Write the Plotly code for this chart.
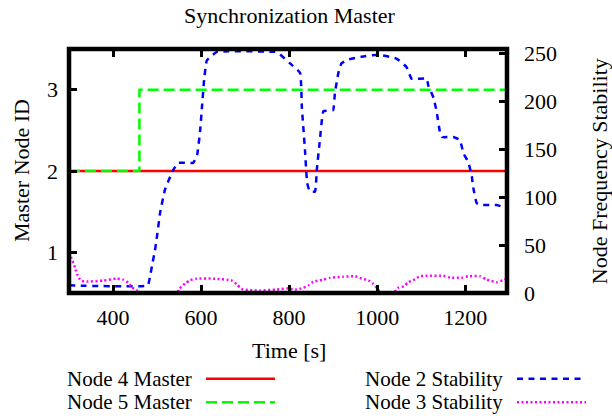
import plotly.graph_objects as go

# ---------------- data ----------------
node4_t = [300, 1295]
node4_id = [2, 2]

node5_t = [300, 460, 460, 1295]
node5_id = [2, 2, 3, 3]

node2_t = [300, 479, 484, 490, 495, 499, 507, 518, 536, 548, 582, 591, 598, 602, 607, 613,
           636, 768, 775, 802, 825, 829, 836, 841, 847, 859, 863, 870, 878, 900, 904, 912,
           919, 934, 965, 1003, 1044, 1067, 1078, 1113, 1116, 1128, 1135, 1143, 1147, 1173,
           1188, 1196, 1207, 1215, 1218, 1226, 1234, 1272, 1290, 1295]
node2_stab = [8, 8, 17, 32, 44, 56, 84, 108, 128, 136, 136, 144, 170, 194, 223, 243,
              252, 252, 251, 240, 230, 194, 150, 115, 106, 106, 129, 160, 190, 191, 209, 230,
              240, 244, 247, 249, 245, 236, 224, 224, 217, 204, 190, 167, 163, 163,
              160, 146, 137, 122, 111, 94, 92, 92, 89, 88]

node3_t = [300, 306, 314, 319, 327, 340, 378, 408, 423, 435, 442, 454, 461, 470, 500, 530, 545,
           551, 564, 575, 590, 628, 670, 681, 692, 711, 734, 772, 795, 817, 832, 844, 855,
           878, 893, 923, 950, 965, 980, 990, 999, 1003, 1015, 1030, 1048, 1061, 1071, 1082,
           1097, 1113, 1150, 1166, 1192, 1207, 1234, 1249, 1272, 1285, 1295]
node3_stab = [42, 36, 26, 19, 13, 12, 13, 15, 14, 10.6, 6, 3, -1.6, -6, -10, -6, -1,
              4.4, 10, 13.3, 15, 15, 13, 9, 4.4, 3, 2.6, 3.6, 4.7, 3.6, 5.4, 7.8, 11.7,
              14, 15.8, 17, 17.5, 15, 13.3, 10, 5.4, 3, -4, -4, 5.4, 7, 11.3, 13.3,
              17.5, 18, 18, 16, 16, 17.5, 17.5, 14, 11.3, 13.3, 15]

x_ticks = [400, 600, 800, 1000, 1200]
y_ticks = [1, 2, 3]
y2_ticks = [0, 50, 100, 150, 200, 250]

series_names = ["Node 4 Master", "Node 5 Master", "Node 2 Stability", "Node 3 Stability"]
colors = ["#ff0000", "#00ff00", "#0000ff", "#ff00ff"]
dashes = ["solid", "11px,5px", "6px,5.5px", "2px,2.5px"]

# ---------------- figure ----------------
W, H = 612, 416
L, R, T, B = 69, 105, 49, 122.5
PW, PH = W - L - R, H - T - B
FONT = "Liberation Serif"
FS = 22
LEG_FS = 21


def px(x):
    return (x - L) / PW


def py(y):
    return (H - B - y) / PH


fig = go.Figure()
fig.add_trace(go.Scatter(x=node4_t, y=node4_id, mode="lines", name=series_names[0],
                         line=dict(color=colors[0], width=2.5, dash=dashes[0]),
                         yaxis="y", showlegend=False))
fig.add_trace(go.Scatter(x=node5_t, y=node5_id, mode="lines", name=series_names[1],
                         line=dict(color=colors[1], width=2.5, dash=dashes[1]),
                         yaxis="y", showlegend=False))
fig.add_trace(go.Scatter(x=node2_t, y=node2_stab, mode="lines", name=series_names[2],
                         line=dict(color=colors[2], width=2.5, dash=dashes[2], shape="spline", smoothing=0.3),
                         yaxis="y2", showlegend=False))
fig.add_trace(go.Scatter(x=node3_t, y=node3_stab, mode="lines", name=series_names[3],
                         line=dict(color=colors[3], width=2.5, dash=dashes[3], shape="spline", smoothing=0.5),
                         yaxis="y2", showlegend=False))

axis_common = dict(showgrid=False, zeroline=False, showline=False, ticks="inside",
                   ticklen=8, tickwidth=3, tickcolor="black",
                   tickfont=dict(family=FONT, size=FS, color="black"))

fig.update_layout(
    width=W, height=H,
    margin=dict(l=L, r=R, t=T, b=B, pad=0),
    paper_bgcolor="white", plot_bgcolor="white",
    font=dict(family=FONT, size=FS, color="black"),
    title=dict(text="Synchronization Master", x=289.5 / W, xanchor="center",
               y=1 - 15 / H, yanchor="middle", xref="container",
               yref="container", font=dict(family=FONT, size=FS, color="black")),
    xaxis=dict(range=[300, 1295], tickvals=x_ticks, mirror="ticks",
               ticklabelstandoff=9, **axis_common),
    yaxis=dict(range=[0.5, 3.5], tickvals=y_ticks, ticklabelstandoff=10, **axis_common),
    yaxis2=dict(range=[0, 255], tickvals=y2_ticks, overlaying="y", side="right",
                ticklabelstandoff=16, **axis_common),
    showlegend=False,
)

# plot border (gnuplot style, centred on plot edge)
fig.add_shape(type="rect", xref="paper", yref="paper", x0=0, x1=1, y0=0, y1=1,
              line=dict(color="black", width=4.5), layer="above")

annotations = [
    dict(text="Time [s]", x=px(289), y=py(351), textangle=0),
    dict(text="Master Node ID", x=px(21.7), y=py(170.5), textangle=-90),
    dict(text="Node Frequency Stability", x=px(599), y=py(171.5), textangle=-90),
]
for a in annotations:
    fig.add_annotation(xref="paper", yref="paper", showarrow=False,
                       xanchor="center", yanchor="middle",
                       font=dict(family=FONT, size=FS, color="black"), **a)

# manual gnuplot-style legend: text right-aligned, sample to the right
legend_rows = [
    (series_names[0], 193, 206, 275, 379.5, 0),
    (series_names[1], 193, 206, 275, 403, 1),
    (series_names[2], 504, 517, 586, 379.5, 2),
    (series_names[3], 504, 517, 586, 403, 3),
]
for name, tx, x0, x1, yy, i in legend_rows:
    fig.add_annotation(xref="paper", yref="paper", showarrow=False,
                       text=name, x=px(tx), y=py(yy), xanchor="right", yanchor="middle",
                       borderpad=0,
                       font=dict(family=FONT, size=LEG_FS, color="black"))
    fig.add_shape(type="line", xref="paper", yref="paper",
                  x0=px(x0), x1=px(x1), y0=py(yy), y1=py(yy),
                  line=dict(color=colors[i], width=2.5, dash=dashes[i]))

fig.write_html("out.html", config={"displayModeBar": False},
               post_script="document.body.style.margin='0';document.body.style.overflow='hidden';")
